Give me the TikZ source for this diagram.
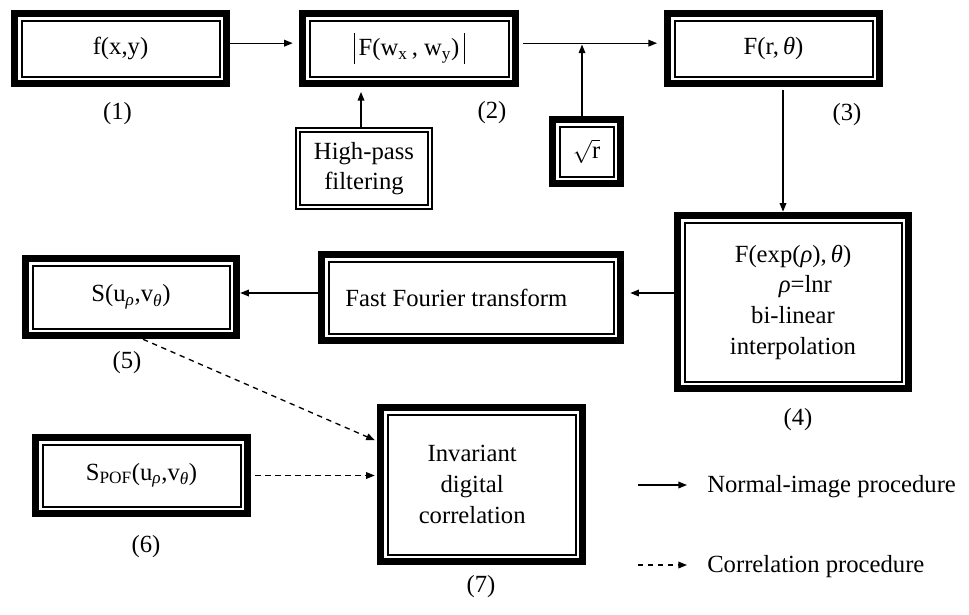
\documentclass[tikz,border=0pt]{standalone}
\usepackage{fontspec}
\setmainfont{Liberation Serif}
\usetikzlibrary{arrows.meta}
\begin{document}
\begin{tikzpicture}[x=0.75pt,y=-0.75pt,
  font=\fontsize{18.5}{23}\selectfont,
  sz/.style 2 args={minimum width=#1*0.75pt, minimum height=#2*0.75pt},
  tribox/.style={rectangle, inner sep=0pt, align=center, path picture={
    \fill[black] (path picture bounding box.south west) rectangle (path picture bounding box.north east);
    \fill[white] ([shift={(7,7)}]path picture bounding box.north west) rectangle ([shift={(-7,-7)}]path picture bounding box.south east);
    \draw[line width=1.5pt] ([shift={(10.5,10.5)}]path picture bounding box.north west) rectangle ([shift={(-10.5,-10.5)}]path picture bounding box.south east);
  }},
  dblbox/.style={rectangle, inner sep=0pt, align=center, path picture={
    \draw[line width=1.5pt] ([shift={(1,1)}]path picture bounding box.north west) rectangle ([shift={(-1,-1)}]path picture bounding box.south east);
    \draw[line width=1.5pt] ([shift={(5,5)}]path picture bounding box.north west) rectangle ([shift={(-5,-5)}]path picture bounding box.south east);
  }},
  arr/.style={line width=1pt, -{Triangle[length=6.5pt,width=5pt]}},
  darr/.style={arr, dash pattern=on 4pt off 3.5pt},
  lbl/.style={inner sep=0pt}
]
\useasboundingbox (0,0) rectangle (969,614);

% boxes
\node[tribox, sz={219}{77}] (b1) at (120.5,48.5) {f(x,y)};
\node[tribox, sz={220}{77}] (b2) at (409,48.5) {\rule[-0.32em]{0.7pt}{1.24em}\,F(w\textsubscript{x}\,, w\textsubscript{y})\,\rule[-0.32em]{0.7pt}{1.24em}};
\node[tribox, sz={219}{77}] (b3) at (773.5,48.5) {F(r,\,\textit{θ})};
\node[dblbox, sz={138}{83}] (hp) at (364,168.5) {High-pass\\filtering};
\node[tribox, sz={75}{71}] (sq) at (586.5,151.5) {$\sqrt{\mbox{r}}$};
\node[tribox, sz={238}{180}] (b4) at (793,302) {F(exp(\textit{ρ}),\,\textit{θ})\\\hspace*{1em}\textit{ρ}=lnr\\bi-linear\\interpolation};
\node[tribox, sz={306}{93}] (fft) at (471,297.5) {\hspace*{-22pt}Fast Fourier transform};
\node[tribox, sz={218}{84}] (b5) at (131,297) {S(u\textsubscript{\textit{ρ}},v\textsubscript{\textit{θ}})};
\node[tribox, sz={219}{83}] (b6) at (141.5,475.5) {S\textsubscript{POF}(u\textsubscript{\textit{ρ}},v\textsubscript{\textit{θ}})};
\node[tribox, sz={209}{161}] (b7) at (481.5,484.5) {\hspace*{-14pt}Invariant\\\hspace*{-14pt}digital\\\hspace*{-14pt}correlation};

% labels
\node[lbl] (n1) at (117.5,114) {(1)};
\node[lbl] (n2) at (492,113) {(2)};
\node[lbl] (n3) at (847,115) {(3)};
\node[lbl] (n4) at (798,420) {(4)};
\node[lbl] (n5) at (127,363) {(5)};
\node[lbl] (n6) at (146,547) {(6)};
\node[lbl] (n7) at (481,587) {(7)};

% connectors
\draw[arr, shorten >=4.5pt] ([yshift=4pt]b1.east) -- ([yshift=4pt]b2.west);
\draw[arr, shorten <=3pt, shorten >=5pt] ([yshift=4pt]b2.east) -- ([yshift=4pt]b3.west);
\coordinate (j) at (582,44.5);
\draw[arr] (sq.north -| j) -- (j);
\coordinate (hpt) at (hp.north |- b2.south);
\draw[arr, shorten >=3.5pt] ([xshift=-2.25pt]hp.north) -- ([xshift=-2.25pt]hpt);
\coordinate (c34) at (783,0);
\draw[arr, shorten <=2pt] (b3.south -| c34) -- (b4.north -| c34);
\coordinate (r1) at (0,293);
\draw[arr, shorten >=4.5pt] (b4.west |- r1) -- (fft.east |- r1);
\draw[arr] (fft.west |- r1) -- (b5.east |- r1);
\draw[darr, shorten >=1.5pt] ([xshift=9pt]b5.south) -- ([yshift=32.6pt]b7.west);
\draw[darr, shorten <=3pt, shorten >=1.5pt] (b6.east) -- (b7.west |- b6.east);

% legend
\node[lbl, anchor=west] (l1) at (707,487) {Normal-image procedure};
\node[lbl, anchor=west] (l2) at (707,567) {Correlation procedure};
\draw[arr] ([xshift=-69*0.75pt, yshift=1.5pt]l1.west) -- ([xshift=-20*0.75pt, yshift=1.5pt]l1.west);
\draw[darr] ([xshift=-69*0.75pt, yshift=1.5pt]l2.west) -- ([xshift=-20*0.75pt, yshift=1.5pt]l2.west);
\end{tikzpicture}
\end{document}
